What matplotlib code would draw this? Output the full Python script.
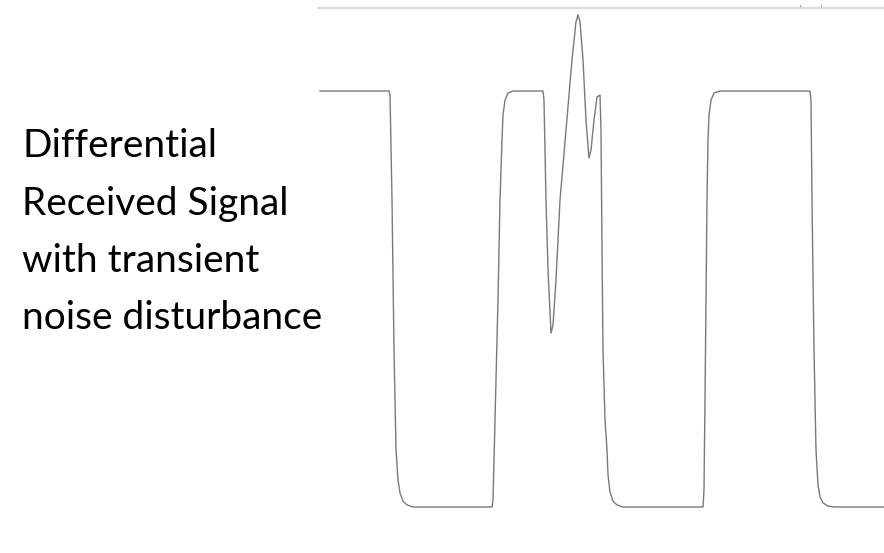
import numpy as np
import matplotlib
matplotlib.use("Agg")
import matplotlib.pyplot as plt
from matplotlib.lines import Line2D

# signal: time (arbitrary units) and level (0 = low, 1 = high)
t = [0, 69, 70, 72, 74, 76, 78, 80, 83, 87, 93,
     172, 173, 175, 178, 180, 182, 183, 185, 188, 193,
     223, 224, 226, 228, 231, 233, 236, 240, 246, 252, 256, 258, 260, 263, 266, 269,
     271, 274, 277, 280, 281, 282, 283, 285, 287, 288, 290, 293, 297, 303,
     383, 384, 385, 386, 387, 388, 389, 391, 394, 400,
     490, 491, 492, 494, 496, 498, 500, 503, 508, 515, 564]
v = [1.0, 1.0, 0.99, 0.739, 0.378, 0.139, 0.065, 0.034, 0.014, 0.005, 0.0,
     0.0, 0.017, 0.209, 0.498, 0.738, 0.882, 0.942, 0.978, 0.995, 1.0,
     1.0, 0.978, 0.738, 0.570, 0.418, 0.437, 0.546, 0.738, 0.906, 1.075, 1.166, 1.183, 1.166,
     1.075, 0.930, 0.839, 0.858, 0.930, 0.986, 0.990, 0.906, 0.618, 0.377, 0.209, 0.137,
     0.077, 0.036, 0.014, 0.005, 0.0,
     0.0, 0.041, 0.257, 0.498, 0.738, 0.882, 0.942, 0.978, 0.995, 1.0,
     1.0, 0.978, 0.738, 0.377, 0.137, 0.053, 0.024, 0.010, 0.002, 0.0, 0.0]

label_lines = ["Differential", "Received Signal", "with transient", "noise disturbance"]

W, H = 884, 553
fig = plt.figure(figsize=(W / 100, H / 100), dpi=100)

ax = fig.add_axes([318 / W, (H - 520) / H, 566 / W, 512 / H])
ax.plot(t, v, color="#7a7a7a", lw=1.0)
ax.set_xlim(-2, 564)
ax.set_ylim(-13 / 416, 499 / 416)
ax.set_xticks([])
ax.set_yticks([])
for s in ["left", "right", "bottom"]:
    ax.spines[s].set_visible(False)
ax.spines["top"].set_color("#dcdcdc")
ax.spines["top"].set_linewidth(1.6)

# two tiny marks above the top rule
for px in [800, 821]:
    fig.add_artist(Line2D([px / W, px / W], [(H - 4.5) / H, (H - 6) / H],
                          color="#a0a0a0", lw=0.8))

baselines = [157, 215, 272, 329]
for line, yb in zip(label_lines, baselines):
    fig.text(22 / W, (H - yb) / H, line, fontsize=28, family="Lato",
             color="black", va="baseline", ha="left")

fig.savefig("out.png", dpi=100)
